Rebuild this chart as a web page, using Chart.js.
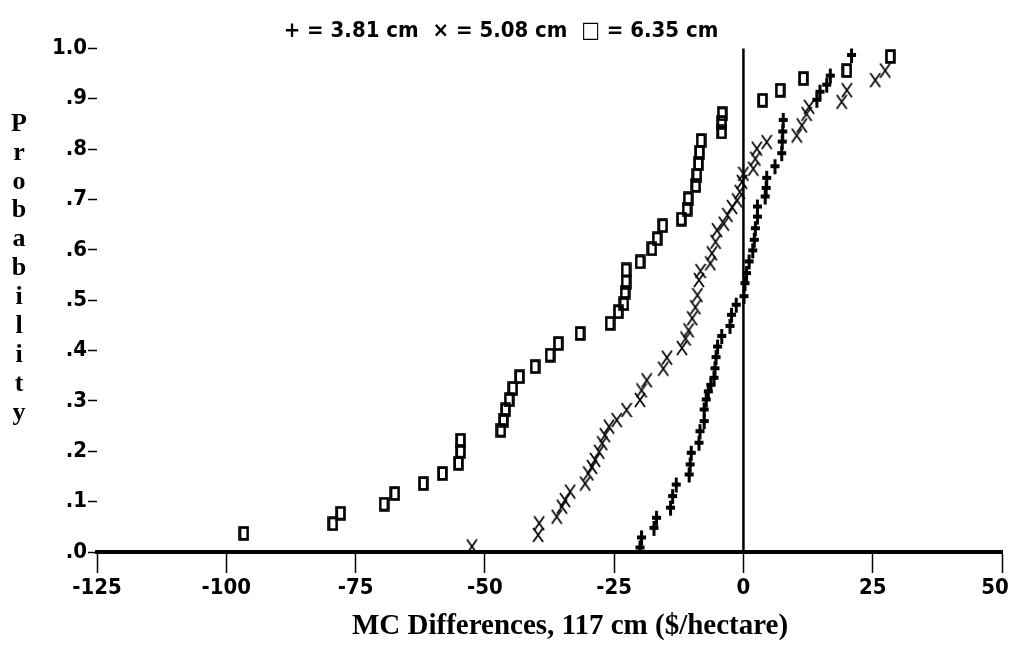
<!DOCTYPE html>
<html>
<head>
<meta charset="utf-8">
<script src="https://cdn.jsdelivr.net/npm/chart.js@4.4.1/dist/chart.umd.min.js"></script>
<style>
    html, body { margin: 0; padding: 0; background: #fff; }
    #wrap { width: 1009px; height: 668px; position: relative; }
</style>
</head>
<body>
<div id="wrap"><canvas id="chart"></canvas></div>
<script>
// --- data ---
const legendText = '+ = 3.81 cm  \u00d7 = 5.08 cm  \u25a1 = 6.35 cm';
const xTitle = 'MC Differences, 117 cm ($/hectare)';
const yTitle = 'Probability';

const xTicks = [-125, -100, -75, -50, -25, 0, 25, 50];
const yTicks = [0, 0.1, 0.2, 0.3, 0.4, 0.5, 0.6, 0.7, 0.8, 0.9, 1.0];
const yTickLabels = ['.0', '.1', '.2', '.3', '.4', '.5', '.6', '.7', '.8', '.9', '1.0'];

// + = 3.81 cm
const plusX = [-20.0, -19.7, -17.3, -16.8, -14.1, -13.7, -13.0, -10.5, -10.3, -10.1,
    -8.6, -8.4, -7.6, -7.6, -7.2, -6.8, -6.3, -5.7, -5.5, -5.3,
    -5.0, -4.2, -2.6, -2.3, -1.4, 0.1, 0.3, 0.6, 1.1, 1.8,
    2.1, 2.3, 2.7, 2.7, 4.2, 4.4, 4.5, 6.1, 7.4, 7.5,
    7.6, 7.7, 14.2, 14.8, 16.1, 16.8, 20.9];
const plusY = [.008, .028, .047, .067, .087, .110, .133, .153, .173, .196,
    .216, .239, .259, .282, .302, .318, .331, .345, .364, .386,
    .407, .428, .448, .470, .490, .507, .533, .553, .576, .598,
    .619, .642, .665, .685, .705, .722, .742, .765, .791, .814,
    .834, .857, .897, .913, .927, .945, .986];

// x = 5.08 cm
const crossX = [-52.5, -39.7, -39.5, -36.1, -35.1, -34.5, -33.5, -30.6, -30.0, -29.3,
    -28.7, -27.9, -27.3, -26.8, -26.0, -24.5, -22.6, -20.0, -19.7, -18.7,
    -15.5, -14.8, -11.9, -11.2, -10.6, -9.9, -9.3, -8.9, -8.6, -8.3,
    -6.4, -6.1, -5.4, -5.1, -3.8, -3.1, -2.2, -1.2, -0.7, -0.3,
    0.0, 1.9, 2.3, 2.6, 4.5, 10.3, 11.3, 12.2, 12.7, 19.0,
    20.0, 25.5, 27.4];
const crossY = [.011, .034, .057, .070, .090, .103, .120, .136, .156, .169,
    .183, .199, .216, .232, .249, .262, .282, .302, .321, .341,
    .364, .386, .405, .424, .440, .464, .486, .510, .540, .558,
    .573, .593, .616, .639, .652, .669, .685, .698, .715, .735,
    .751, .761, .781, .801, .814, .827, .847, .870, .884, .894,
    .917, .937, .956];

// square = 6.35 cm
const squareX = [-96.6, -79.4, -77.9, -69.5, -67.4, -61.9, -58.2, -55.1, -54.7, -54.7,
    -46.9, -46.4, -46.0, -45.3, -44.6, -43.3, -40.3, -37.4, -35.8, -31.6,
    -25.8, -24.2, -23.1, -22.9, -22.7, -22.7, -20.0, -17.7, -16.7, -15.6,
    -12.0, -10.9, -10.7, -9.2, -9.0, -8.7, -8.5, -8.2, -4.2, -4.2,
    -4.1, 3.7, 7.1, 11.6, 20.0, 28.4];
const squareY = [.037, .056, .077, .095, .116, .136, .156, .176, .200, .222,
    .242, .262, .282, .302, .325, .348, .368, .391, .414, .434,
    .454, .477, .493, .516, .536, .560, .576, .602, .622, .648,
    .661, .681, .701, .728, .748, .771, .794, .817, .834, .853,
    .870, .897, .917, .940, .956, .984];

// --- marker glyphs ---
function makeMarker(w, h, draw) {
    const c = document.createElement('canvas');
    c.width = w;
    c.height = h;
    const g = c.getContext('2d');
    g.strokeStyle = '#000';
    g.fillStyle = '#000';
    draw(g, w, h);
    return c;
}

const plusMarker = makeMarker(11, 17, (g, w, h) => {
    g.fillRect(4, 1, 3, h - 2);
    g.fillRect(1, 6, w - 2, 4);
});
const crossMarker = makeMarker(12, 16, (g, w, h) => {
    g.lineWidth = 1.7;
    g.beginPath();
    g.moveTo(1, 1); g.lineTo(w - 1, h - 1);
    g.moveTo(w - 1, 1); g.lineTo(1, h - 1);
    g.stroke();
});
const squareMarker = makeMarker(11, 15, (g, w, h) => {
    g.lineWidth = 2.8;
    g.strokeRect(1.6, 1.6, w - 3.2, h - 3.2);
});

const toPoints = (xs, ys) => xs.map((x, i) => ({ x, y: ys[i] }));

const narrowFont = "'Liberation Sans Narrow', 'DejaVu Sans Condensed', 'Liberation Sans', sans-serif";
const serifFont = "'Liberation Serif', 'DejaVu Serif', serif";

// zero line, y title stacked letter by letter, x title
const extrasPlugin = {
    id: 'extras',
    afterDatasetsDraw(chart) {
        const { ctx, chartArea, scales } = chart;
        const x0 = scales.x.getPixelForValue(0);
        ctx.save();
        ctx.strokeStyle = '#000';
        ctx.lineWidth = 2.5;
        ctx.beginPath();
        ctx.moveTo(x0, chartArea.top);
        ctx.lineTo(x0, chartArea.bottom);
        ctx.stroke();

        ctx.fillStyle = '#000';
        ctx.textAlign = 'center';
        ctx.textBaseline = 'middle';
        ctx.font = 'bold 26px ' + serifFont;
        yTitle.split('').forEach((ch, i) => {
            ctx.fillText(ch, 19, 124 + i * 28.9);
        });

        ctx.font = 'bold 29px ' + serifFont;
        ctx.fillText(xTitle, 570, 627);
        ctx.restore();
    }
};

new Chart(document.getElementById('chart'), {
    type: 'scatter',
    data: {
        datasets: [
            { label: '+ = 3.81 cm', data: toPoints(plusX, plusY), pointStyle: plusMarker, pointRadius: 6 },
            { label: '\u00d7 = 5.08 cm', data: toPoints(crossX, crossY), pointStyle: crossMarker, pointRadius: 6 },
            { label: '\u25a1 = 6.35 cm', data: toPoints(squareX, squareY), pointStyle: squareMarker, pointRadius: 6 }
        ]
    },
    options: {
        responsive: true,
        maintainAspectRatio: false,
        animation: false,
        layout: { padding: { left: 0, right: 7, top: 0, bottom: 0 } },
        plugins: {
            legend: { display: false },
            tooltip: { enabled: false },
            title: {
                display: true,
                text: legendText,
                color: '#000',
                font: { family: narrowFont, size: 22, weight: 'bold', lineHeight: 1.2 },
                padding: { top: 18, bottom: 4 }
            }
        },
        scales: {
            x: {
                type: 'linear',
                min: -125,
                max: 50,
                afterBuildTicks: s => { s.ticks = xTicks.map(v => ({ value: v })); },
                afterFit: s => { s.height = 116; s.paddingLeft = 0; s.paddingRight = 0; },
                border: { display: true, color: '#000', width: 4 },
                grid: { display: true, drawOnChartArea: false, drawTicks: true, tickLength: 21, tickWidth: 1.5, tickColor: '#000' },
                ticks: {
                    color: '#000',
                    padding: 2,
                    maxRotation: 0,
                    autoSkip: false,
                    font: { family: narrowFont, size: 22, weight: 'bold' },
                    // last label sits a little inside the right edge, as in the original
                    callback: (v, i) => i === xTicks.length - 1 ? String(v) + '\u2002\u2009' : String(v)
                }
            },
            y: {
                type: 'linear',
                min: 0,
                max: 1,
                afterBuildTicks: s => { s.ticks = yTicks.map(v => ({ value: v })); },
                afterFit: s => { s.width = 97; s.paddingTop = 0; s.paddingBottom = 0; },
                border: { display: false },
                grid: { display: true, drawOnChartArea: false, drawTicks: true, tickLength: 9, tickWidth: 1.5, tickColor: '#000' },
                ticks: {
                    color: '#000',
                    padding: 1,
                    autoSkip: false,
                    font: { family: narrowFont, size: 22, weight: 'bold' },
                    callback: (v, i) => yTickLabels[i]
                }
            }
        }
    },
    plugins: [extrasPlugin]
});
</script>
</body>
</html>
